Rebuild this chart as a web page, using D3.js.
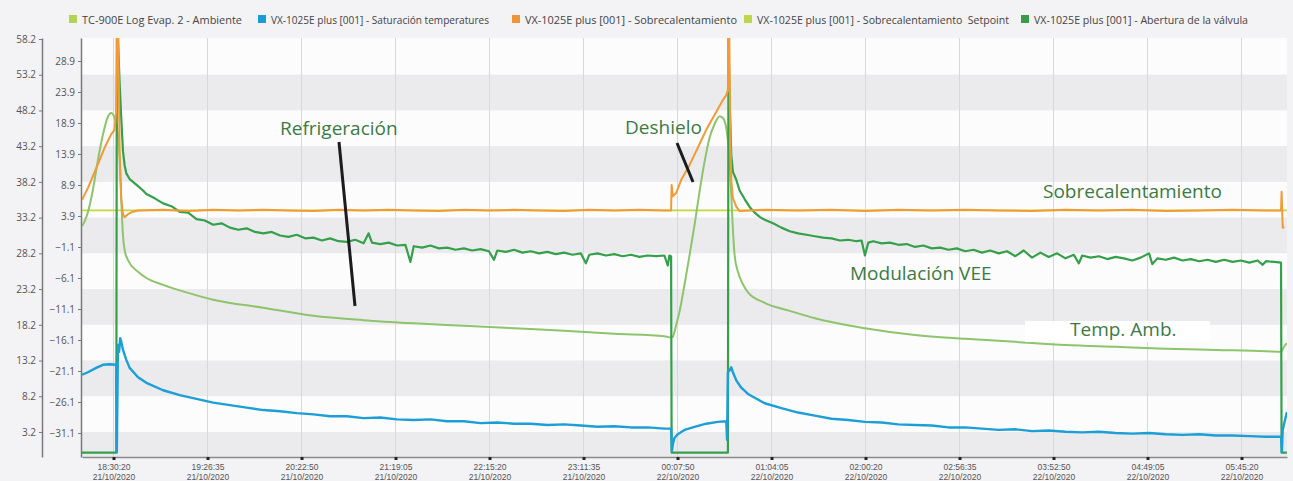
<!DOCTYPE html>
<html>
<head>
<meta charset="utf-8">
<script src="https://cdn.jsdelivr.net/npm/d3@7"></script>
<style>
  body { margin: 0; background: #f3f2f4; }
  svg { display: block; font-family: "Open Sans", sans-serif; }
</style>
</head>
<body>
<div id="chart"></div>
<script>
// series names (legend order)
var seriesNames = [
  "TC-900E Log Evap. 2 - Ambiente",
  "VX-1025E plus [001] - Saturación temperatures",
  "VX-1025E plus [001] - Sobrecalentamiento",
  "VX-1025E plus [001] - Sobrecalentamiento  Setpoint",
  "VX-1025E plus [001] - Abertura de la válvula"
];

// axis ticks
var outerTicks = [3.2, 8.2, 13.2, 18.2, 23.2, 28.2, 33.2, 38.2, 43.2, 48.2, 53.2, 58.2];
var innerTicks = [-31.1, -26.1, -21.1, -16.1, -11.1, -6.1, -1.1, 3.9, 8.9, 13.9, 18.9, 23.9, 28.9];
var xTickLabels = ["18:30:20", "19:26:35", "20:22:50", "21:19:05", "22:15:20", "23:11:35",
  "00:07:50", "01:04:05", "02:00:20", "02:56:35", "03:52:50", "04:49:05", "05:45:20"];

// Ambiente (°C, inner axis)
var ambiente = [
  ["18:11:30", 2.3], ["18:13", 3.0], ["18:15", 4.5], ["18:18", 8.1], ["18:21", 12.9], ["18:24", 17.0],
  ["18:27", 19.9], ["18:29", 20.5], ["18:31", 19.7], ["18:33", 17.0], ["18:34", 12.9], ["18:35", 6.5],
  ["18:36", 0.8], ["18:37", -1.6], ["18:39", -3.2], ["18:45", -5.1], ["18:50", -6.1], ["19:00", -7.2],
  ["19:15", -8.5], ["19:30", -9.6], ["20:00", -10.9], ["20:30", -12.2], ["21:00", -12.9], ["21:30", -13.4],
  ["22:00", -13.8], ["22:30", -14.2], ["23:00", -14.6], ["23:30", -15.1], ["00:00", -15.5], ["00:04", -15.7],
  ["00:05", -15.6], ["00:06", -14.8], ["00:07", -13.7], ["00:09", -11.6], ["00:12", -7.2], ["00:15", -2.5],
  ["00:18", 2.4], ["00:21", 7.8], ["00:24", 12.6], ["00:27", 16.5], ["00:30", 18.7], ["00:33", 20.0],
  ["00:35", 19.7], ["00:37", 18.1], ["00:39", 12.9], ["00:40", 7.3], ["00:41", 1.7], ["00:42", -2.4],
  ["00:44", -5.1], ["00:47", -7.1], ["00:50", -8.4], ["01:00", -10.1], ["01:15", -11.4], ["01:30", -12.6],
  ["02:00", -14.2], ["02:30", -15.3], ["03:00", -15.9], ["03:30", -16.4], ["04:00", -16.9], ["04:30", -17.2],
  ["05:00", -17.5], ["05:30", -17.7], ["06:00", -17.9], ["06:09", -18.0], ["06:11", -17.1], ["06:12:30", -16.6]
];

// Saturación temperatures (°C, inner axis)
var saturacion = [
  ["18:11:30", -21.7], ["18:15", -21.3], ["18:20", -20.6], ["18:24", -20.1], ["18:28", -20.0], ["18:32", -20.1],
  ["18:32:20", -34.2], ["18:33", -16.9], ["18:33:40", -18.0], ["18:34:20", -15.8], ["18:35", -16.4],
  ["18:36", -17.7], ["18:38", -19.3], ["18:40", -20.6], ["18:45", -22.1], ["18:50", -23.0],
  ["19:00", -24.2], ["19:10", -25.0], ["19:20", -25.6], ["19:30", -26.2], ["19:40", -26.6], ["19:50", -27.0],
  ["20:00", -27.4], ["20:10", -27.6], ["20:20", -27.9], ["20:30", -28.1], ["20:40", -28.4], ["20:50", -28.4],
  ["21:00", -28.7], ["21:10", -28.6], ["21:20", -28.9], ["21:30", -29.0], ["21:40", -28.9], ["21:50", -29.2],
  ["22:00", -29.2], ["22:10", -29.5], ["22:20", -29.4], ["22:30", -29.6], ["22:40", -29.6], ["22:50", -29.8],
  ["23:00", -29.7], ["23:10", -29.9], ["23:20", -30.1], ["23:30", -30.0], ["23:40", -30.2], ["23:50", -30.2],
  ["00:00", -30.4], ["00:04", -30.4], ["00:04:30", -34.0], ["00:05", -33.0], ["00:06", -31.9], ["00:08", -31.3],
  ["00:12", -30.6], ["00:18", -30.1], ["00:25", -29.6], ["00:32", -29.3], ["00:37", -29.2], ["00:37:30", -32.2],
  ["00:38", -21.3], ["00:39", -21.0], ["00:40", -20.5], ["00:41", -21.3], ["00:43", -22.6], ["00:46", -23.8],
  ["00:50", -24.8], ["01:00", -26.3], ["01:10", -27.1], ["01:20", -27.8], ["01:30", -28.3], ["01:40", -28.8],
  ["01:50", -29.0], ["02:00", -29.3], ["02:10", -29.4], ["02:20", -29.7], ["02:30", -29.8], ["02:40", -29.9],
  ["02:50", -30.2], ["03:00", -30.2], ["03:10", -30.4], ["03:20", -30.6], ["03:30", -30.5], ["03:40", -30.8],
  ["03:50", -30.7], ["04:00", -30.9], ["04:10", -31.0], ["04:20", -30.9], ["04:30", -31.1], ["04:40", -31.2],
  ["04:50", -31.1], ["05:00", -31.3], ["05:10", -31.4], ["05:20", -31.3], ["05:30", -31.5], ["05:40", -31.5],
  ["05:50", -31.6], ["06:00", -31.7], ["06:09", -31.7], ["06:09:30", -34.2], ["06:10", -30.6], ["06:12:30", -27.7]
];

// Sobrecalentamiento (K, inner axis)
var sobrecalentamiento = [
  ["18:11:30", 6.5], ["18:15", 8.4], ["18:20", 11.6], ["18:25", 14.9], ["18:29", 17.1], ["18:31", 17.8],
  ["18:32", 21.0], ["18:32:30", 33.0], ["18:33:10", 33.0], ["18:34", 14.5], ["18:35", 6.5], ["18:36", 4.2],
  ["18:37", 3.7], ["18:39", 4.2], ["18:42", 4.6], ["18:45", 4.8], ["19:00", 4.9], ["19:15", 4.7],
  ["19:30", 4.9], ["19:45", 4.8], ["20:00", 4.9], ["20:15", 4.8], ["20:30", 4.7], ["20:45", 4.9],
  ["21:00", 4.8], ["21:15", 4.9], ["21:30", 4.8], ["21:45", 4.7], ["22:00", 4.9], ["22:15", 4.8],
  ["22:30", 4.9], ["22:45", 4.8], ["23:00", 4.7], ["23:15", 4.9], ["23:30", 4.8], ["23:45", 4.9],
  ["00:00", 4.8], ["00:04", 4.8], ["00:04:20", 8.9], ["00:05", 7.1], ["00:07", 7.6], ["00:10", 9.7],
  ["00:15", 12.1], ["00:20", 14.9], ["00:25", 17.8], ["00:30", 20.2], ["00:35", 22.6], ["00:37", 23.4],
  ["00:38", 24.2], ["00:38:20", 33.0], ["00:38:50", 33.0], ["00:39:20", 17.8], ["00:40", 9.7], ["00:41", 6.8],
  ["00:43", 5.4], ["00:45", 4.7], ["01:00", 4.9], ["01:20", 4.8], ["01:40", 4.9], ["02:00", 4.7],
  ["02:20", 4.9], ["02:40", 4.8], ["03:00", 4.9], ["03:20", 4.8], ["03:40", 4.7], ["04:00", 4.9],
  ["04:20", 4.8], ["04:40", 4.9], ["05:00", 4.7], ["05:20", 4.8], ["05:40", 4.9], ["06:00", 4.8],
  ["06:09", 4.8], ["06:09:20", 7.8], ["06:10", 2.0], ["06:11", 2.1]
];

// Sobrecalentamiento setpoint (K, inner axis)
var setpoint = [["18:11:30", 4.8], ["06:12:30", 4.8]];

// Abertura de la válvula (%, outer axis)
var valvula = [
  ["18:11:30", 0.3], ["18:32", 0.3], ["18:32:20", 58.3], ["18:33", 58.3], ["18:34", 52.0], ["18:35", 47.0],
  ["18:36", 42.5], ["18:37", 40.5], ["18:38", 39.4], ["18:40", 38.6], ["18:42", 38.2], ["18:45", 37.6],
  ["18:48", 37.0], ["18:50", 36.5], ["18:55", 35.9], ["19:00", 35.2], ["19:05", 34.8], ["19:10", 34.0],
  ["19:15", 33.9], ["19:20", 33.0], ["19:25", 32.8], ["19:30", 32.2], ["19:35", 32.4], ["19:40", 31.8],
  ["19:45", 31.5], ["19:50", 31.7], ["19:55", 31.2], ["20:00", 31.0], ["20:05", 31.2], ["20:10", 30.7],
  ["20:15", 30.5], ["20:20", 30.8], ["20:25", 30.3], ["20:30", 30.4], ["20:35", 30.0], ["20:40", 30.3],
  ["20:45", 29.9], ["20:50", 29.8], ["20:55", 30.1], ["21:00", 29.6], ["21:03", 31.0], ["21:05", 29.7],
  ["21:10", 29.5], ["21:15", 29.7], ["21:20", 29.3], ["21:25", 29.4], ["21:28", 27.0], ["21:30", 29.2],
  ["21:35", 29.0], ["21:40", 29.3], ["21:45", 28.9], ["21:50", 29.0], ["21:55", 28.7], ["22:00", 28.9],
  ["22:05", 28.6], ["22:10", 28.8], ["22:15", 28.5], ["22:18", 27.3], ["22:20", 28.6], ["22:25", 28.4],
  ["22:30", 28.7], ["22:35", 28.3], ["22:40", 28.5], ["22:45", 28.2], ["22:50", 28.4], ["22:55", 28.1],
  ["23:00", 28.3], ["23:05", 28.0], ["23:10", 28.2], ["23:13", 26.8], ["23:15", 28.0], ["23:20", 28.2],
  ["23:25", 27.9], ["23:30", 28.1], ["23:35", 27.8], ["23:40", 28.0], ["23:45", 27.7], ["23:50", 27.9],
  ["23:55", 27.8], ["00:00", 27.9], ["00:02", 26.5], ["00:03", 27.9], ["00:04", 27.8], ["00:04:20", 0.3],
  ["00:38", 0.3], ["00:38:20", 58.3], ["00:39", 50.0], ["00:40", 42.0], ["00:41", 39.6], ["00:43", 38.5],
  ["00:45", 37.0], ["00:48", 35.8], ["00:51", 34.7], ["00:54", 33.9], ["00:57", 33.3], ["01:00", 32.9],
  ["01:05", 32.4], ["01:10", 31.8], ["01:15", 31.3], ["01:20", 31.0], ["01:25", 30.8], ["01:30", 30.6],
  ["01:35", 30.4], ["01:40", 30.3], ["01:45", 30.0], ["01:50", 30.1], ["01:55", 29.9], ["01:58", 30.0],
  ["02:00", 27.9], ["02:02", 29.7], ["02:05", 29.9], ["02:10", 29.6], ["02:15", 29.7], ["02:20", 29.4],
  ["02:25", 29.5], ["02:30", 29.1], ["02:35", 29.3], ["02:40", 28.9], ["02:45", 29.0], ["02:50", 28.7],
  ["02:55", 28.9], ["03:00", 28.5], ["03:05", 28.7], ["03:10", 28.3], ["03:15", 28.6], ["03:20", 28.2],
  ["03:25", 28.5], ["03:30", 27.8], ["03:35", 28.6], ["03:40", 27.6], ["03:45", 28.3], ["03:50", 27.7],
  ["03:55", 28.2], ["04:00", 27.5], ["04:05", 28.0], ["04:08", 26.8], ["04:10", 27.9], ["04:15", 27.6],
  ["04:20", 27.8], ["04:25", 27.4], ["04:30", 27.7], ["04:35", 27.5], ["04:40", 27.2], ["04:45", 27.6],
  ["04:50", 28.2], ["04:52", 26.7], ["04:55", 27.5], ["05:00", 27.3], ["05:05", 27.6], ["05:10", 27.2],
  ["05:15", 27.4], ["05:20", 27.1], ["05:25", 27.3], ["05:30", 27.0], ["05:35", 27.3], ["05:40", 27.0],
  ["05:45", 27.2], ["05:50", 26.9], ["05:55", 27.2], ["05:58", 26.6], ["06:00", 27.1], ["06:05", 27.0],
  ["06:09", 26.9], ["06:09:20", 0.3], ["06:12:30", 0.3]
];

// SVG layout
var svgWidth = 1293;
var svgHeight = 481;
var margin = { top: 38, right: 6, bottom: 24, left: 82 };
var width = svgWidth - margin.left - margin.right;
var height = svgHeight - margin.top - margin.bottom;

// clock string -> Date (evening on 21/10, early morning on 22/10)
var parseFull = d3.timeParse("%d/%m/%Y %H:%M:%S");
function toDate(s) {
  var full = s.length === 5 ? s + ":00" : s;
  var day = +full.slice(0, 2) >= 12 ? "21/10/2020 " : "22/10/2020 ";
  return parseFull(day + full);
}

var svg = d3.select("#chart").append("svg")
  .attr("width", svgWidth)
  .attr("height", svgHeight);

svg.append("rect")
  .attr("width", svgWidth)
  .attr("height", svgHeight)
  .attr("fill", "#f3f2f4");

var chartGroup = svg.append("g")
  .attr("transform", `translate(${margin.left}, ${margin.top})`);

// scales
var xTimeScale = d3.scaleTime()
  .domain([toDate("18:11:29"), toDate("06:12:34")])
  .range([0, width]);

var yOuter = d3.scaleLinear()
  .domain([-0.3, 58.34])
  .range([height, 0]);

var yInner = d3.scaleLinear()
  .domain([-34.97, 32.61])
  .range([height, 0]);

// alternating bands on the outer axis steps
var bandEdges = [yOuter.domain()[1]].concat(outerTicks.slice().reverse().slice(1), [yOuter.domain()[0]]);
var bands = d3.pairs(bandEdges);
chartGroup.append("g").selectAll("rect")
  .data(bands)
  .enter()
  .append("rect")
  .attr("x", 0)
  .attr("width", width)
  .attr("y", d => yOuter(d[0]))
  .attr("height", d => yOuter(d[1]) - yOuter(d[0]))
  .attr("fill", (d, i) => i % 2 === 0 ? "#fcfcfd" : "#ebebed");

var tickDates = xTickLabels.map(toDate);

// vertical grid
chartGroup.append("g").selectAll("line")
  .data(tickDates)
  .enter()
  .append("line")
  .attr("x1", d => xTimeScale(d))
  .attr("x2", d => xTimeScale(d))
  .attr("y1", 0)
  .attr("y2", height)
  .attr("stroke", "#d8d8da")
  .attr("stroke-width", 1);

// x axis
var bottomAxis = d3.axisBottom(xTimeScale)
  .tickValues(tickDates)
  .tickSize(3)
  .tickSizeOuter(0)
  .tickFormat("");

var xAxis = chartGroup.append("g")
  .attr("transform", `translate(0, ${height})`)
  .call(bottomAxis);
xAxis.select(".domain").attr("stroke", "#8a8a8a").attr("stroke-width", 1.5);
xAxis.selectAll(".tick line").attr("stroke", "#222").attr("stroke-width", 3);

var fmtTime = d3.timeFormat("%H:%M:%S");
var fmtDay = d3.timeFormat("%d/%m/%Y");
var xLabels = xAxis.selectAll(".tick").append("g");
xLabels.append("text")
  .attr("y", 13)
  .attr("text-anchor", "middle")
  .attr("font-size", "8.5px")
  .attr("fill", "#555")
  .text(d => fmtTime(d));
xLabels.append("text")
  .attr("y", 23)
  .attr("text-anchor", "middle")
  .attr("font-size", "8.5px")
  .attr("fill", "#555")
  .text(d => fmtDay(d));

// outer y axis (valve %)
var outerAxis = chartGroup.append("g")
  .attr("transform", "translate(-40, 0)")
  .call(d3.axisLeft(yOuter).tickValues(outerTicks).tickFormat(d3.format(".1f")).tickSize(3).tickSizeOuter(0));

// inner y axis (temperatures)
var innerAxis = chartGroup.append("g")
  .attr("transform", "translate(-1, 0)")
  .call(d3.axisLeft(yInner).tickValues(innerTicks).tickFormat(d3.format(".1f")).tickSize(3).tickSizeOuter(0));

[outerAxis, innerAxis].forEach(function(ax) {
  ax.select(".domain").attr("stroke", "#7a7a7a").attr("stroke-width", 1.5);
  ax.selectAll(".tick line").attr("stroke", "#7a7a7a");
  ax.selectAll(".tick text")
    .attr("font-family", "Open Sans")
    .attr("font-size", "10px")
    .attr("fill", "#555");
});

// clip for the lines
svg.append("defs").append("clipPath")
  .attr("id", "plot-clip")
  .append("rect")
  .attr("width", width)
  .attr("height", height);

var linesGroup = chartGroup.append("g").attr("clip-path", "url(#plot-clip)");

function drawSeries(data, yScale, color, widthPx, curve) {
  var line = d3.line()
    .x(d => xTimeScale(toDate(d[0])))
    .y(d => yScale(d[1]))
    .curve(curve || d3.curveLinear);
  linesGroup.append("path")
    .datum(data)
    .attr("d", line)
    .attr("fill", "none")
    .attr("stroke", color)
    .attr("stroke-width", widthPx)
    .attr("stroke-linejoin", "round");
}

drawSeries(setpoint, yInner, "#c5d63f", 1.6);
drawSeries(ambiente, yInner, "#8dc46c", 2, d3.curveMonotoneX);
drawSeries(valvula, yOuter, "#34a04a", 2.2);
drawSeries(saturacion, yInner, "#1b9fd6", 2.4);
drawSeries(sobrecalentamiento, yInner, "#f29a35", 2);

// legend
var legendColors = ["#b2d356", "#1a9cd8", "#ec9438", "#bcd64e", "#3b9a49"];
var legendX = [69, 258, 512, 744, 1021];
var legendW = [160, 218, 212, 252, 214];
var legend = svg.append("g").selectAll("g")
  .data(seriesNames)
  .enter()
  .append("g")
  .attr("transform", (d, i) => `translate(${legendX[i]}, 15)`);
legend.append("rect")
  .attr("width", 8)
  .attr("height", 8)
  .attr("fill", (d, i) => legendColors[i]);
legend.append("text")
  .attr("x", 13)
  .attr("y", 8.5)
  .attr("font-size", "10.5px")
  .attr("fill", "#444")
  .attr("textLength", (d, i) => legendW[i])
  .attr("lengthAdjust", "spacingAndGlyphs")
  .style("white-space", "pre")
  .text(d => d);

// annotations
svg.append("rect")
  .attr("x", 1025).attr("y", 321).attr("width", 185).attr("height", 21)
  .attr("fill", "#ffffff");

var notes = [
  { text: "Refrigeración", x: 280, y: 135 },
  { text: "Deshielo", x: 625, y: 134 },
  { text: "Sobrecalentamiento", x: 1043, y: 198 },
  { text: "Modulación VEE", x: 850, y: 280 },
  { text: "Temp. Amb.", x: 1070, y: 336 }
];
svg.append("g").selectAll("text")
  .data(notes)
  .enter()
  .append("text")
  .attr("x", d => d.x)
  .attr("y", d => d.y)
  .attr("font-size", "19px")
  .attr("fill", "#3c7a44")
  .text(d => d.text);

var pointers = [[339, 142, 355, 306], [677, 143, 693, 182]];
svg.append("g").selectAll("line")
  .data(pointers)
  .enter()
  .append("line")
  .attr("x1", d => d[0]).attr("y1", d => d[1])
  .attr("x2", d => d[2]).attr("y2", d => d[3])
  .attr("stroke", "#1c1c1c")
  .attr("stroke-width", 3);
</script>
</body>
</html>
